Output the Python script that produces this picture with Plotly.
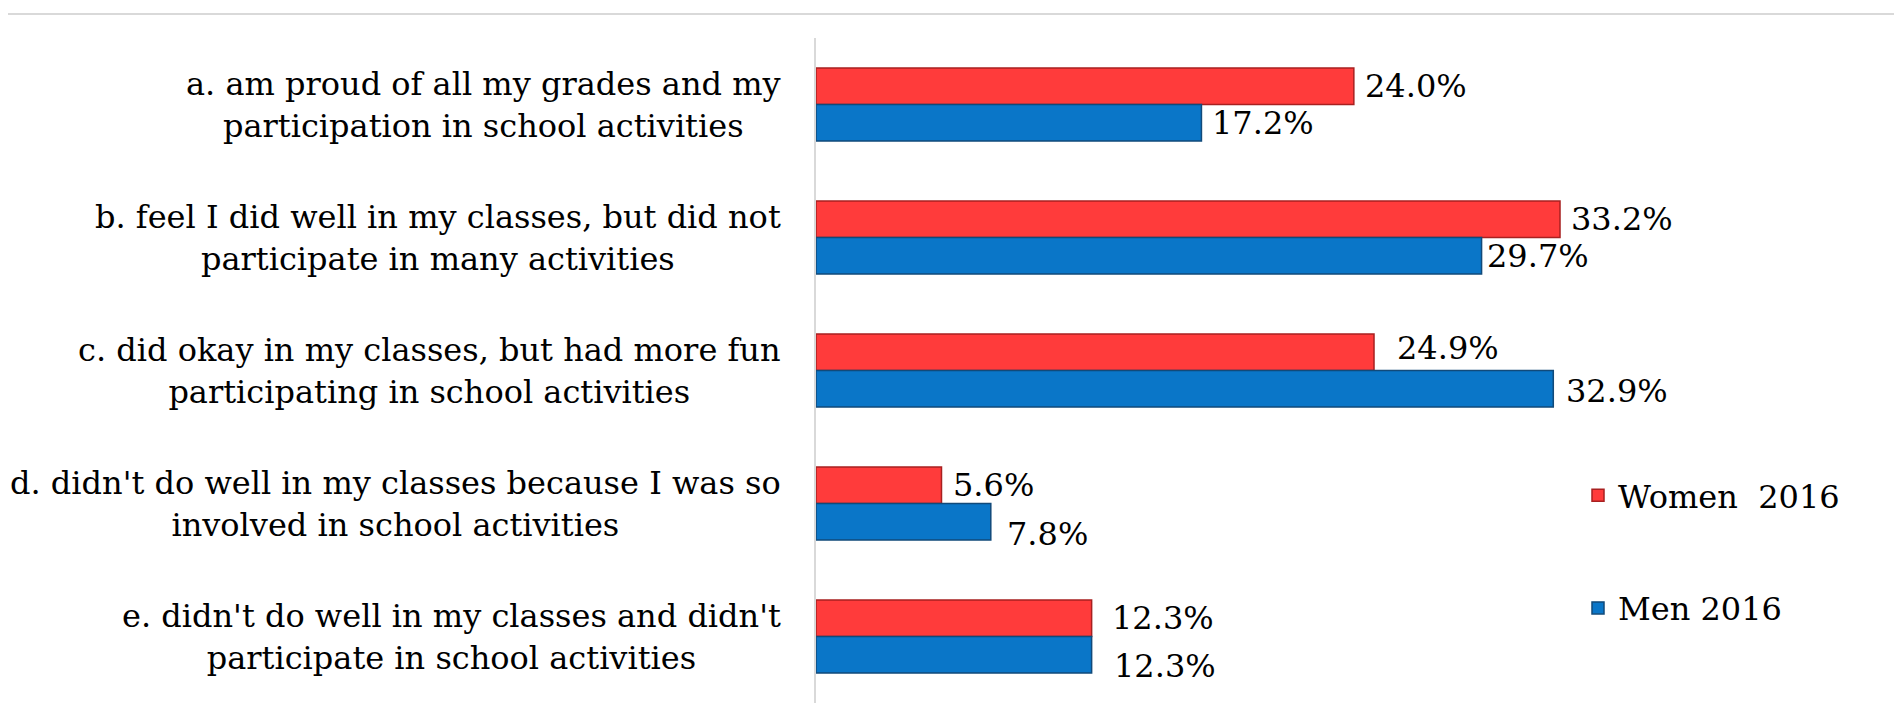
import plotly.graph_objects as go

categories = [
    "a. am proud of all my grades and my<br>participation in school activities",
    "b. feel I did well in my classes, but did not<br>participate in many activities",
    "c. did okay in my classes, but had more fun<br>participating in school activities",
    "d. didn't do well in my classes because I was so<br>involved in school activities",
    "e. didn't do well in my classes and didn't<br>participate in school activities",
]
women_2016 = [24.0, 33.2, 24.9, 5.6, 12.3]
men_2016 = [17.2, 29.7, 32.9, 7.8, 12.3]
series_names = ["Women  2016", "Men 2016"]

# label placement tweaks (pixels): (xshift, yshift)
women_label_shift = [(9, 0), (9, 0), (21, 4), (9, 0), (18, 0)]
men_label_shift = [(9, 0), (3, 0), (11, -2), (14, -12), (20, -11)]

FONT = "DejaVu Serif"
FS = 32
RED = "#FF3B3B"
RED_EDGE = "#A82020"
BLUE = "#0A76C8"
BLUE_EDGE = "#114A7A"
GRID = "#D9D9D9"

W, H = 1902, 714
L, R, T, B = 808, 310, 30, 19
plot_w = W - L - R
plot_h = H - T - B

ypos = list(range(len(categories)))
BARGAP = 0.45
bar_w = (1 - BARGAP) / 2

fig = go.Figure()
fig.add_trace(go.Bar(
    name=series_names[0], y=ypos, x=women_2016, orientation="h",
    marker=dict(color=RED, line=dict(color=RED_EDGE, width=1.5)),
    legendgroup="w", hoverinfo="skip",
))
fig.add_trace(go.Bar(
    name=series_names[1], y=ypos, x=men_2016, orientation="h",
    marker=dict(color=BLUE, line=dict(color=BLUE_EDGE, width=1.5)),
    legendgroup="m", hoverinfo="skip",
))

annotations = []
for i, (wv, mv) in enumerate(zip(women_2016, men_2016)):
    annotations.append(dict(
        x=wv, y=i - bar_w / 2, xref="x", yref="y", text=f"{wv:.1f}%",
        showarrow=False, xanchor="left", yanchor="middle",
        xshift=women_label_shift[i][0], yshift=women_label_shift[i][1],
        font=dict(family=FONT, size=FS, color="#000000"),
    ))
    annotations.append(dict(
        x=mv, y=i + bar_w / 2, xref="x", yref="y", text=f"{mv:.1f}%",
        showarrow=False, xanchor="left", yanchor="middle",
        xshift=men_label_shift[i][0], yshift=men_label_shift[i][1],
        font=dict(family=FONT, size=FS, color="#000000"),
    ))
    annotations.append(dict(
        x=0, y=i, xref="paper", yref="y", text=categories[i],
        showarrow=False, xanchor="right", yanchor="middle", align="center",
        xshift=-33,
        font=dict(family=FONT, size=FS, color="#000000"),
    ))

def px_to_paper_x(px):
    return (px - L) / plot_w

def px_to_paper_y(py):
    return (H - B - py) / plot_h

shapes = [
    dict(type="line", xref="paper", yref="paper",
         x0=px_to_paper_x(0), x1=px_to_paper_x(1898),
         y0=px_to_paper_y(6), y1=px_to_paper_y(6),
         line=dict(color=GRID, width=2)),
    dict(type="line", xref="paper", yref="paper",
         x0=px_to_paper_x(1897), x1=px_to_paper_x(1897),
         y0=px_to_paper_y(6), y1=px_to_paper_y(714),
         line=dict(color=GRID, width=2)),
]

fig.update_layout(
    width=W, height=H,
    margin=dict(l=L, r=R, t=T, b=B),
    paper_bgcolor="white", plot_bgcolor="white",
    barmode="group", bargap=BARGAP, bargroupgap=0,
    font=dict(family=FONT, size=FS, color="#000000"),
    xaxis=dict(range=[0, plot_w / 22.41], showgrid=False, zeroline=False,
               showticklabels=False, showline=False, fixedrange=True),
    yaxis=dict(range=[4.5, -0.5], tickvals=ypos, showticklabels=False,
               showgrid=False, zeroline=False, showline=True,
               linecolor=GRID, linewidth=2, ticks="", fixedrange=True),
    legend=dict(x=px_to_paper_x(1570), y=px_to_paper_y(460), xanchor="left",
                yanchor="top", traceorder="grouped", tracegroupgap=68,
                font=dict(family=FONT, size=FS, color="#000000"),
                bgcolor="rgba(0,0,0,0)"),
    annotations=annotations,
    shapes=shapes,
)

fig.write_html("out.html")
